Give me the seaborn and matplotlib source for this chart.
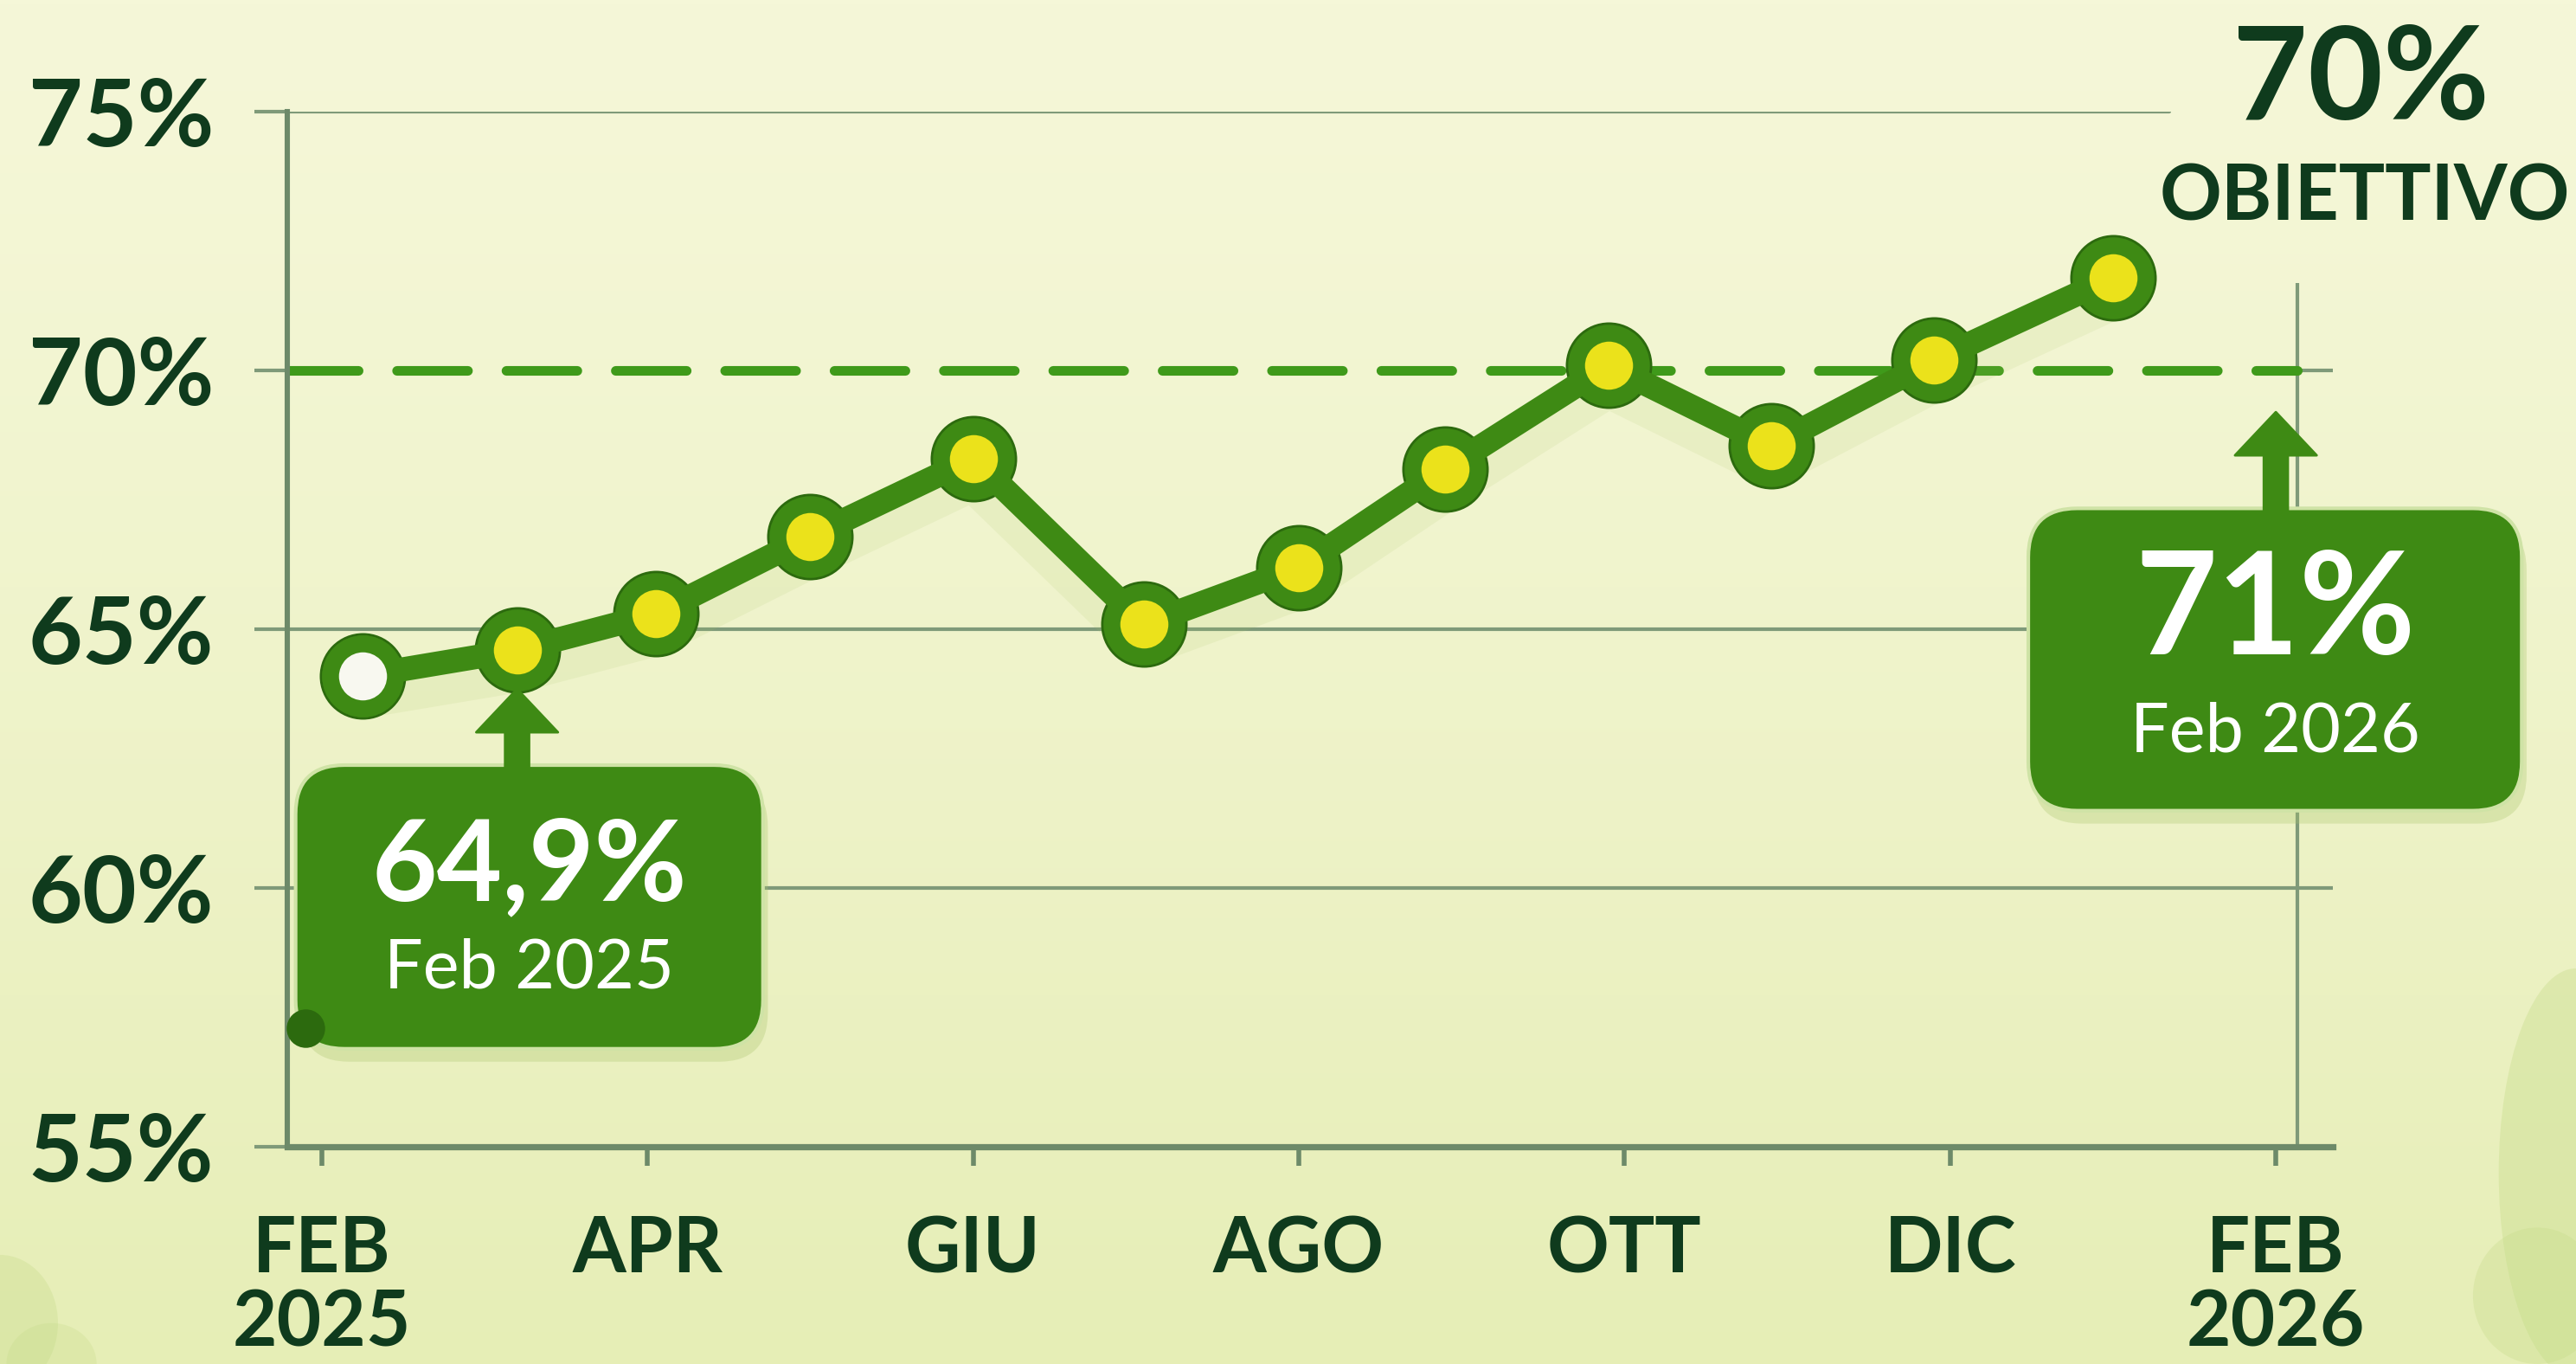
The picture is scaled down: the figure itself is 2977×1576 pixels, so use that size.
import numpy as np
import matplotlib.pyplot as plt
import seaborn as sns
from matplotlib.patches import FancyBboxPatch, Ellipse

# values (x in months from Feb 2025)
months = [0.25, 1.2, 2.05, 3.0, 4.0, 5.05, 6.0, 6.9, 7.9, 8.9, 9.9, 11.0]
share = [64.1, 64.6, 65.3, 66.8, 68.3, 65.1, 66.2, 68.1, 70.1, 68.55, 70.2, 71.8]
stray_month = [-0.1]
stray_share = [57.3]
tick_pos = [0, 2, 4, 6, 8, 10, 12]
tick_labels = ['FEB\n2025', 'APR', 'GIU', 'AGO', 'OTT', 'DIC', 'FEB\n2026']
y_ticks = [55, 60, 65, 70, 75]
target = 70
start_label = ('64,9%', 'Feb 2025')
end_label = ('71%', 'Feb 2026')

sns.set_theme(style='white')
plt.rcParams['font.family'] = ['Lato', 'DejaVu Sans']
plt.rcParams['lines.scale_dashes'] = False

dark = '#0f3b1d'
green = '#3e8a14'
ring = '#2c6a0e'
yellow = '#ebe21b'
grid = '#7f9a79'

fig = plt.figure(figsize=(2977 / 200, 1576 / 200), dpi=200)

# background gradient + soft leaves
bg = fig.add_axes([0, 0, 1, 1], zorder=0)
yy, xx = np.mgrid[0:1:300j, 0:1:560j]
top = np.array([245, 247, 216]) / 255
bot = np.array([230, 238, 182]) / 255
img = top * (1 - yy[..., None] ** 1.3) + bot * (yy[..., None] ** 1.3)
bg.imshow(img, extent=[0, 1, 0, 1], aspect='auto', origin='upper')
for cx, cy, ww, hh, a in [(1.0, 0.14, 0.06, 0.3, 0.35), (0.985, 0.05, 0.05, 0.1, 0.3),
                          (0.0, 0.03, 0.045, 0.1, 0.3), (0.02, 0.0, 0.035, 0.06, 0.25)]:
    bg.add_patch(Ellipse((cx, cy), ww, hh, color='#c3da86', alpha=a, lw=0))
bg.set_xlim(0, 1)
bg.set_ylim(0, 1)
bg.axis('off')

ax = fig.add_axes([0.1116, 0.159, 0.794, 0.759], zorder=1)
ax.patch.set_alpha(0)
x0, x1 = -0.21, 12.35
right_edge = 12.13
ax.set_xlim(x0, x1)
ax.set_ylim(55, 75)

# grid
ax.axhline(75, 0, 0.92, color=grid, lw=1.5, zorder=1)
ax.axhline(65, color=grid, lw=1.5, zorder=1)
ax.axhline(60, color=grid, lw=1.5, zorder=1)
ax.hlines(target, right_edge, x1, color=grid, lw=1.5, zorder=1)
ax.vlines(right_edge, 55, 71.7, color=grid, lw=1.5, zorder=1)
ax.plot([x0, right_edge], [target, target], color='#3f9a1a', lw=4,
        dashes=(29.5, 16), dash_capstyle='round', zorder=2)

# soft shadow under the line
ax.plot(months, np.array(share) - 0.4, color='#a8c468', lw=18, alpha=0.12,
        solid_joinstyle='round', zorder=2)

# line and markers
sns.scatterplot(x=months, y=share, ax=ax, s=36 ** 2, color=ring, linewidth=0, zorder=3)
sns.lineplot(x=months, y=share, ax=ax, color=green, lw=10, sort=False,
             solid_joinstyle='round', solid_capstyle='round', zorder=4,
             marker='o', markersize=27, markerfacecolor=yellow,
             markeredgecolor=green, markeredgewidth=7)
ax.plot(months[:1], share[:1], 'o', ms=27, mfc='#f8f8f0', mec=green, mew=7, zorder=6)

# callout boxes
asp = (0.794 * 2977 / (x1 - x0)) / (0.759 * 1576 / 20)


def callout(bx0, bx1, by0, by1, big, small, big_size, y_big, y_small, ax_x, tip):
    ax.add_patch(FancyBboxPatch((bx0 + 0.03, by0 - 0.25), bx1 - bx0, by1 - by0,
                                boxstyle='round,pad=0,rounding_size=0.3', mutation_aspect=asp,
                                fc='#a9c46c', ec='none', alpha=0.3, zorder=7, clip_on=False))
    ax.add_patch(FancyBboxPatch((bx0, by0), bx1 - bx0, by1 - by0,
                                boxstyle='round,pad=0,rounding_size=0.3', mutation_aspect=asp,
                                fc=green, ec='#cfe3a6', lw=1.5, zorder=8, clip_on=False))
    cx = (bx0 + bx1) / 2
    ax.text(cx, y_big, big, color='white', fontsize=big_size, fontweight='bold',
            ha='center', va='center', zorder=9, clip_on=False)
    ax.text(cx, y_small, small, color='white', fontsize=28.5,
            ha='center', va='center', zorder=9, clip_on=False)
    ax.annotate('', xy=(ax_x, tip), xytext=(ax_x, by1 - 0.05),
                arrowprops=dict(arrowstyle='simple,head_length=0.45,head_width=0.85,tail_width=0.25',
                                color=green, mutation_scale=40, shrinkA=0, shrinkB=0),
                zorder=8, annotation_clip=False)


callout(-0.16, 2.71, 56.9, 62.38, *start_label, 47, 60.4, 58.45, months[1], 63.85)
callout(10.48, 13.51, 61.5, 67.34, *end_label, 59, 65.3, 63.0, 12.0, 69.2)

ax.plot(stray_month, stray_share, 'o', ms=15, color=ring, zorder=9, clip_on=False)

# axes styling
for s in ['top', 'right']:
    ax.spines[s].set_visible(False)
ax.spines['left'].set_color('#6d8a69')
ax.spines['left'].set_linewidth(2.2)
ax.spines['bottom'].set_color('#6d8a69')
ax.spines['bottom'].set_linewidth(2.6)

ax.set_yticks(y_ticks, [f'{v}%' for v in y_ticks])
ax.set_xticks(tick_pos, tick_labels)
ax.tick_params(axis='y', length=13.7, width=1.5, color=grid, pad=17,
               labelsize=39, labelcolor=dark, left=True)
ax.tick_params(axis='x', length=8, width=2, color='#6d8a69', pad=20,
               labelsize=32, labelcolor=dark, bottom=True)
for lbl in ax.get_yticklabels() + ax.get_xticklabels():
    lbl.set_fontweight('bold')
for lbl in ax.get_xticklabels():
    lbl.set_linespacing(1.05)
ax.set_xlabel('')
ax.set_ylabel('')

fig.text(0.9165, 0.94, '70%', color=dark, fontsize=54, fontweight='bold',
         ha='center', va='center')
fig.text(0.918, 0.855, 'OBIETTIVO', color=dark, fontsize=32, fontweight='bold',
         ha='center', va='center')

fig.savefig('out.png', dpi=200)
